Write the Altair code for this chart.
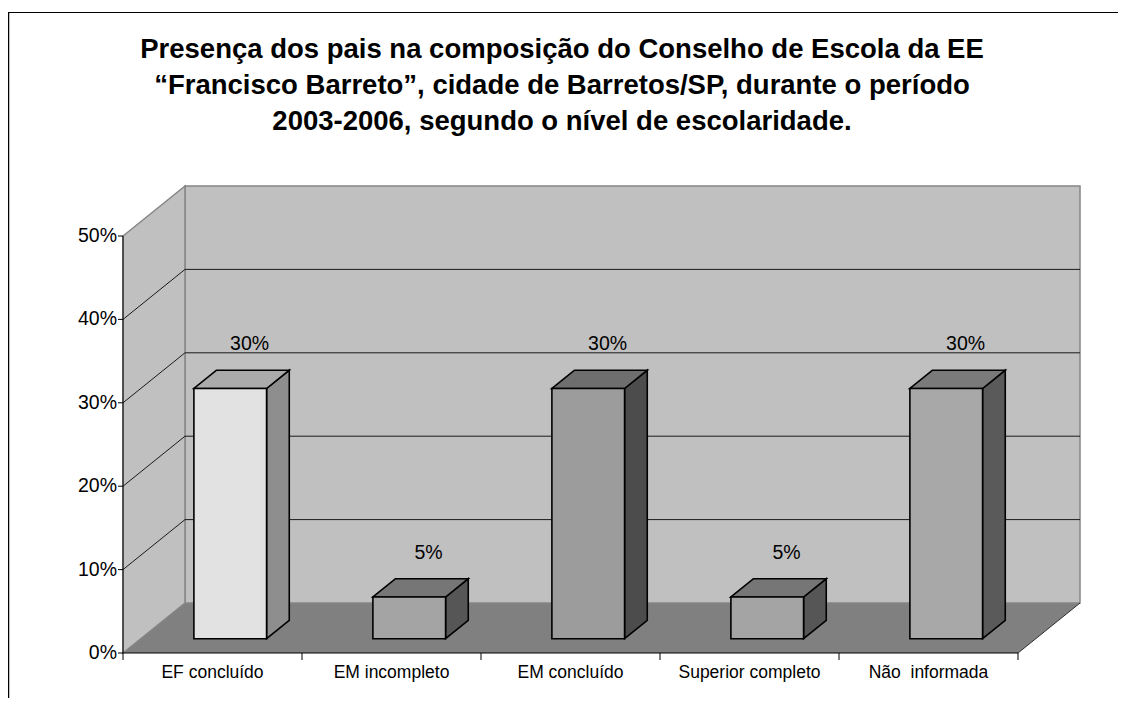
import altair as alt
import pandas as pd

# ---------------- data ----------------
categories = ["EF concluído", "EM incompleto", "EM concluído", "Superior completo", "Não\u00a0 informada"]
values = [30, 5, 30, 5, 30]
value_labels = ["30%", "5%", "30%", "5%", "30%"]
y_ticks = [0, 10, 20, 30, 40, 50]
y_tick_labels = ["0%", "10%", "20%", "30%", "40%", "50%"]
title_lines = [
    "Presença dos pais na composição do Conselho de Escola da EE",
    "“Francisco Barreto”, cidade de Barretos/SP, durante o período",
    "2003-2006, segundo o nível de escolaridade.",
]

# ---------------- styles ----------------
front_colors = ["#E2E2E2", "#A4A4A4", "#9C9C9C", "#A4A4A4", "#A8A8A8"]
top_colors = ["#ABABAB", "#767676", "#6E6E6E", "#767676", "#7A7A7A"]
side_colors = ["#8E8E8E", "#565656", "#4C4C4C", "#565656", "#5A5A5A"]
FONT = "Liberation Sans"

W, H = 1110, 690
PX_X = 179.0          # pixels per category slot
PX_Y = 8.34           # pixels per percent
ORIGIN_X, ORIGIN_Y = 115.0, 645.0   # front origin of the plot (pixels)
DEPTH_X = 62 / PX_X   # oblique depth, in data units
DEPTH_Y = 50 / PX_Y
BAR_W = 0.406
D1, D2 = 0.286, 0.652  # bar front / back depth fraction
YMAX = y_ticks[-1]
N = len(categories)

xs = alt.Scale(domain=[-ORIGIN_X / PX_X, (W - ORIGIN_X) / PX_X], nice=False, zero=False)
ys = alt.Scale(domain=[-(H - ORIGIN_Y) / PX_Y, ORIGIN_Y / PX_Y], nice=False, zero=False)


def X(f="x"):
    return alt.X(f"{f}:Q", scale=xs, axis=None)


def Y(f="y"):
    return alt.Y(f"{f}:Q", scale=ys, axis=None)


# ---------------- walls & floor ----------------
floor_df = pd.DataFrame({"y": [0, DEPTH_Y], "x": [0, DEPTH_X], "x2": [N, N + DEPTH_X]})
floor = alt.Chart(floor_df).mark_area(orient="horizontal", fill="#808080").encode(
    y=Y(), x=X(), x2="x2:Q")

back_df = pd.DataFrame({"x": [DEPTH_X], "x2": [N + DEPTH_X], "y": [DEPTH_Y], "y2": [YMAX + DEPTH_Y]})
back = alt.Chart(back_df).mark_rect(fill="#C0C0C0", stroke="#858585", strokeWidth=1.5).encode(
    x=X(), x2="x2:Q", y=Y(), y2="y2:Q")

left_df = pd.DataFrame({"x": [0, DEPTH_X], "y": [0, DEPTH_Y], "y2": [YMAX, YMAX + DEPTH_Y]})
left = alt.Chart(left_df).mark_area(orient="vertical", fill="#C0C0C0", stroke="#858585",
                                    strokeWidth=1.5).encode(x=X(), y=Y(), y2="y2:Q")

floor_edge_df = pd.DataFrame({"x": [N], "x2": [N + DEPTH_X], "y": [0], "y2": [DEPTH_Y]})
floor_edge = alt.Chart(floor_edge_df).mark_rule(color="#303030", strokeWidth=1).encode(
    x=X(), x2="x2:Q", y=Y(), y2="y2:Q")

grid_rows = []
for v in y_ticks[1:-1]:
    grid_rows.append({"x": DEPTH_X, "x2": N + DEPTH_X, "y": v + DEPTH_Y, "y2": v + DEPTH_Y})
    grid_rows.append({"x": 0, "x2": DEPTH_X, "y": v, "y2": v + DEPTH_Y})
grid = alt.Chart(pd.DataFrame(grid_rows)).mark_rule(color="#1a1a1a", strokeWidth=1).encode(
    x=X(), x2="x2:Q", y=Y(), y2="y2:Q")

# ---------------- axes ----------------
axis_df = pd.DataFrame({"x": [0, 0], "x2": [0, N], "y": [0, 0], "y2": [YMAX, 0]})
axes = alt.Chart(axis_df).mark_rule(color="black", strokeWidth=1).encode(
    x=X(), x2="x2:Q", y=Y(), y2="y2:Q")

ytick_df = pd.DataFrame({"y": y_ticks, "x": [-5 / PX_X] * len(y_ticks), "x2": [0] * len(y_ticks),
                         "label": y_tick_labels})
yticks = alt.Chart(ytick_df).mark_rule(color="black").encode(x=X(), x2="x2:Q", y=Y())
ylabels = alt.Chart(ytick_df).mark_text(align="right", baseline="middle", dx=-6, font=FONT,
                                        fontSize=19.5, color="black").encode(
    x=alt.X("x2:Q", scale=xs, axis=None), y=Y(), text="label:N")

xtick_df = pd.DataFrame({"x": list(range(N + 1)), "y": [0] * (N + 1), "y2": [-7 / PX_Y] * (N + 1)})
xticks = alt.Chart(xtick_df).mark_rule(color="black").encode(x=X(), y=Y(), y2="y2:Q")

xlab_df = pd.DataFrame({"x": [i + 0.5 for i in range(N)], "y": [0] * N, "label": categories})
xlabels = alt.Chart(xlab_df).mark_text(baseline="middle", dy=20, font=FONT, fontSize=17.5,
                                       color="black").encode(x=X(), y=Y(), text="label:N")

# ---------------- 3D bars ----------------
ddx = (D2 - D1) * DEPTH_X
ddy = (D2 - D1) * DEPTH_Y
front_rows, top_rows, side_rows, lab_rows = [], [], [], []
for i, (c, v, lab) in enumerate(zip(categories, values, value_labels)):
    xl = i + 0.5 - BAR_W / 2 + D1 * DEPTH_X
    xr = xl + BAR_W
    yb = D1 * DEPTH_Y
    yt = v + D1 * DEPTH_Y
    front_rows.append({"cat": c, "col": front_colors[i], "x": xl, "x2": xr, "y": yb, "y2": yt})
    top_rows += [{"cat": c, "col": top_colors[i], "y": yt, "x": xl, "x2": xr},
                 {"cat": c, "col": top_colors[i], "y": yt + ddy, "x": xl + ddx, "x2": xr + ddx}]
    side_rows += [{"cat": c, "col": side_colors[i], "x": xr, "y": yb, "y2": yt},
                  {"cat": c, "col": side_colors[i], "x": xr + ddx, "y": yb + ddy, "y2": yt + ddy}]
    lab_rows.append({"cat": c, "label": lab,
                     "x": i + 0.5 + (D1 + D2) / 2 * DEPTH_X,
                     "y": v + (D1 + D2) / 2 * DEPTH_Y})

FILL = alt.Fill("col:N", scale=None)

bar_front = alt.Chart(pd.DataFrame(front_rows)).mark_rect(stroke="black", strokeWidth=1.6).encode(
    x=X(), x2="x2:Q", y=Y(), y2="y2:Q", fill=FILL)
bar_top = alt.Chart(pd.DataFrame(top_rows)).mark_area(
    orient="horizontal", stroke="black", strokeWidth=1.6, strokeJoin="miter").encode(
    y=Y(), x=X(), x2="x2:Q", fill=FILL, detail="cat:N")
bar_side = alt.Chart(pd.DataFrame(side_rows)).mark_area(
    orient="vertical", stroke="black", strokeWidth=1.6, strokeJoin="miter").encode(
    x=X(), y=Y(), y2="y2:Q", fill=FILL, detail="cat:N")

vlabels = alt.Chart(pd.DataFrame(lab_rows)).mark_text(
    baseline="middle", dx=8, dy=-35, font=FONT, fontSize=19.5, color="black").encode(
    x=X(), y=Y(), text="label:N")

# ---------------- frame & title ----------------
frame_top = alt.Chart(pd.DataFrame({"k": [0]})).mark_rule(color="black", strokeWidth=1).encode(
    x=alt.value(0), x2=alt.value(W), y=alt.value(4.5))
frame_left = alt.Chart(pd.DataFrame({"k": [0]})).mark_rule(color="black", strokeWidth=1.5).encode(
    x=alt.value(0.5), y=alt.value(4), y2=alt.value(H))

title_layers = []
for k, line in enumerate(title_lines):
    title_layers.append(
        alt.Chart(pd.DataFrame({"t": [line]})).mark_text(
            font=FONT, fontSize=27.5, fontWeight="bold", baseline="middle", align="center",
            color="black").encode(x=alt.value(554), y=alt.value(42 + 36 * k), text="t:N"))

chart = alt.layer(
    floor, back, left, floor_edge, grid, axes, yticks, ylabels, xticks, xlabels,
    bar_side, bar_top, bar_front, vlabels, frame_top, frame_left, *title_layers
).properties(
    width=W, height=H, padding=0, background="white",
    autosize=alt.AutoSizeParams(type="none"),
).configure_view(stroke=None)

chart.save("out.html", embed_options={"renderer": "svg", "actions": False})
